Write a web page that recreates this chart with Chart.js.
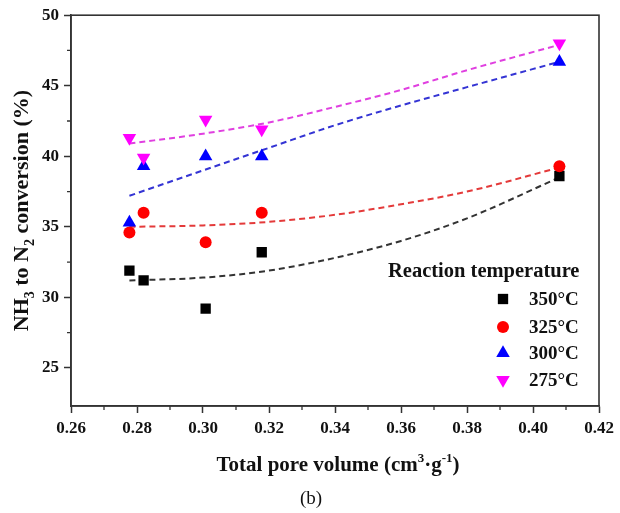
<!DOCTYPE html>
<html>
<head>
<meta charset="utf-8">
<script src="https://cdn.jsdelivr.net/npm/chart.js@4.4.0/dist/chart.umd.min.js"></script>
<style>
  html, body { margin:0; padding:0; background:#fff; }
  #wrap { width:620px; height:513px; position:relative; }
</style>
</head>
<body>
<div id="wrap"><canvas id="chart" width="620" height="513"></canvas></div>
<script>
// Measured samples (total pore volume, cm3/g)
const poreVolume = [0.2777, 0.2820, 0.3008, 0.3178, 0.4080];
const conv350 = [31.9, 31.2, 29.2, 33.2, 38.6];
const conv325 = [34.6, 36.0, 33.9, 36.0, 39.3];
const conv300 = [35.3, 39.3, 40.0, 40.0, 46.7];
const conv275 = [41.3, 39.9, 42.6, 41.9, 48.0];

// Dashed trend curves
const fitX = [0.2777, 0.30, 0.32, 0.34, 0.36, 0.38, 0.408];
const fit350 = [31.2, 31.4, 31.9, 32.8, 34.0, 35.6, 38.5];
const fit325 = [35.0, 35.1, 35.35, 35.85, 36.6, 37.5, 39.2];
const fit300 = [37.2, 39.0, 40.6, 42.2, 43.6, 44.9, 46.7];
const fit275 = [40.9, 41.6, 42.4, 43.5, 44.7, 46.1, 47.9];

const seriesLabels = ['350°C', '325°C', '300°C', '275°C'];

// Ticks
const xTicks = [0.26, 0.28, 0.30, 0.32, 0.34, 0.36, 0.38, 0.40, 0.42];
const xMinor = [0.27, 0.29, 0.31, 0.33, 0.35, 0.37, 0.39, 0.41];
const yTicks = [25, 30, 35, 40, 45, 50];
const yMinor = [27.5, 32.5, 37.5, 42.5, 47.5];

const SERIF = '"Liberation Serif", "Times New Roman", serif';
const markerColors = ['#000000', '#ff0000', '#0000ff', '#ff00ff'];
const lineColors = ['#333333', '#e43a3a', '#3434d4', '#e040e0'];
const markerStyles = [
  {style:'rect', radius:7.3, rotation:0},
  {style:'circle', radius:6, rotation:0},
  {style:'triangle', radius:7.8, rotation:0},
  {style:'triangle', radius:7.8, rotation:180}
];

function pts(xs, ys) { return xs.map((x, i) => ({x: x, y: ys[i]})); }

const convSets = [conv350, conv325, conv300, conv275];
const fitSets = [fit350, fit325, fit300, fit275];

const datasets = [];
convSets.forEach((ys, i) => {
  datasets.push({
    type:'scatter',
    label: seriesLabels[i],
    data: pts(poreVolume, ys),
    backgroundColor: markerColors[i],
    borderColor: markerColors[i],
    borderWidth: 0,
    pointStyle: markerStyles[i].style,
    pointRadius: markerStyles[i].radius,
    pointRotation: markerStyles[i].rotation,
    order: 4 - i
  });
});
fitSets.forEach((ys, i) => {
  datasets.push({
    type:'line',
    label: 'fit ' + seriesLabels[i],
    data: pts(fitX, ys),
    borderColor: lineColors[i],
    borderWidth: 2,
    borderDash: [6, 4],
    pointRadius: 0,
    cubicInterpolationMode: 'monotone',
    fill: false,
    order: 10
  });
});

// rich text helper: parts of {t, pos:'n'|'sub'|'sup'}
function drawRich(ctx, parts, cx, cy, size) {
  const small = Math.round(size * 0.62);
  let total = 0;
  parts.forEach(p => {
    ctx.font = 'bold ' + (p.pos === 'n' ? size : small) + 'px ' + SERIF;
    p.w = ctx.measureText(p.t).width;
    total += p.w;
  });
  let x = cx - total / 2;
  ctx.textAlign = 'left';
  ctx.textBaseline = 'alphabetic';
  const base = cy + size * 0.33;
  parts.forEach(p => {
    ctx.font = 'bold ' + (p.pos === 'n' ? size : small) + 'px ' + SERIF;
    let y = base;
    if (p.pos === 'sub') y = base + size * 0.25;
    if (p.pos === 'sup') y = base - size * 0.42;
    ctx.fillText(p.t, x, y);
    x += p.w;
  });
}

function drawMarker(ctx, m, color, x, y) {
  ctx.fillStyle = color;
  ctx.beginPath();
  if (m.style === 'rect') {
    const s = m.radius * Math.SQRT1_2;
    ctx.rect(x - s, y - s, 2 * s, 2 * s);
  } else if (m.style === 'circle') {
    ctx.arc(x, y, m.radius, 0, Math.PI * 2);
  } else {
    let rad = m.rotation * Math.PI / 180;
    ctx.moveTo(x + Math.sin(rad) * m.radius, y - Math.cos(rad) * m.radius);
    rad += 2 * Math.PI / 3;
    ctx.lineTo(x + Math.sin(rad) * m.radius, y - Math.cos(rad) * m.radius);
    rad += 2 * Math.PI / 3;
    ctx.lineTo(x + Math.sin(rad) * m.radius, y - Math.cos(rad) * m.radius);
    ctx.closePath();
  }
  ctx.fill();
}

const decorPlugin = {
  id: 'decor',
  afterDraw(chart) {
    const ctx = chart.ctx;
    const a = chart.chartArea;
    const xs = chart.scales.x, ys = chart.scales.y;
    ctx.save();
    // frame
    ctx.strokeStyle = '#333';
    ctx.lineWidth = 1.6;
    ctx.strokeRect(a.left, a.top, a.right - a.left, a.bottom - a.top);
    // minor ticks
    ctx.lineWidth = 1.3;
    ctx.beginPath();
    xMinor.forEach(v => {
      const px = xs.getPixelForValue(v);
      ctx.moveTo(px, a.bottom); ctx.lineTo(px, a.bottom + 4);
    });
    yMinor.forEach(v => {
      const py = ys.getPixelForValue(v);
      ctx.moveTo(a.left, py); ctx.lineTo(a.left - 4, py);
    });
    ctx.stroke();

    ctx.fillStyle = '#111';
    // x title
    drawRich(ctx, [
      {t:'Total pore volume (cm', pos:'n'}, {t:'3', pos:'sup'},
      {t:'·g', pos:'n'}, {t:'-1', pos:'sup'}, {t:')', pos:'n'}
    ], 338, 464, 21);
    // y title
    ctx.save();
    ctx.translate(21, (a.top + a.bottom) / 2);
    ctx.rotate(-Math.PI / 2);
    drawRich(ctx, [
      {t:'NH', pos:'n'}, {t:'3', pos:'sub'}, {t:' to N', pos:'n'},
      {t:'2', pos:'sub'}, {t:' conversion (%)', pos:'n'}
    ], 0, 0, 22);
    ctx.restore();

    // legend
    ctx.fillStyle = '#111';
    ctx.font = 'bold 20.5px ' + SERIF;
    ctx.textAlign = 'left';
    ctx.textBaseline = 'middle';
    ctx.fillText('Reaction temperature', 388, 272);
    const rows = [299, 327, 353, 380];
    seriesLabels.forEach((lab, i) => {
      const m = Object.assign({}, markerStyles[i]);
      drawMarker(ctx, m, markerColors[i], 503, rows[i]);
      ctx.fillStyle = '#111';
      ctx.font = 'bold 19px ' + SERIF;
      ctx.fillText(lab, 529, rows[i] + 1);
    });

    // panel label
    ctx.font = '19px ' + SERIF;
    ctx.textAlign = 'center';
    ctx.fillText('(b)', 311, 499);
    ctx.restore();
  }
};

const ctx = document.getElementById('chart').getContext('2d');
new Chart(ctx, {
  data: { datasets: datasets },
  options: {
    responsive: false,
    animation: false,
    layout: { padding: { top: 14, right: 21, left: 0, bottom: 0 } },
    plugins: { legend: { display: false }, tooltip: { enabled: false } },
    scales: {
      x: {
        type: 'linear',
        min: 0.26, max: 0.42,
        afterBuildTicks: axis => { axis.ticks = xTicks.map(v => ({value: v})); },
        afterFit: scale => { scale.height = 107; },
        grid: { drawOnChartArea: false, drawTicks: true, tickLength: 7, tickColor: '#333', tickWidth: 1.5 },
        border: { display: true, color: '#333', width: 1.6 },
        ticks: {
          color: '#111', padding: 5, maxRotation: 0,
          font: { family: SERIF, size: 17, weight: 'bold' },
          callback: v => v.toFixed(2)
        }
      },
      y: {
        type: 'linear',
        min: 22.3, max: 50,
        afterBuildTicks: axis => { axis.ticks = yTicks.map(v => ({value: v})); },
        afterFit: scale => { scale.width = 71; },
        grid: { drawOnChartArea: false, drawTicks: true, tickLength: 7, tickColor: '#333', tickWidth: 1.5 },
        border: { display: true, color: '#333', width: 1.6 },
        ticks: {
          color: '#111', padding: 5,
          font: { family: SERIF, size: 17, weight: 'bold' },
          callback: v => String(v)
        }
      }
    }
  },
  plugins: [decorPlugin]
});
</script>
</body>
</html>
